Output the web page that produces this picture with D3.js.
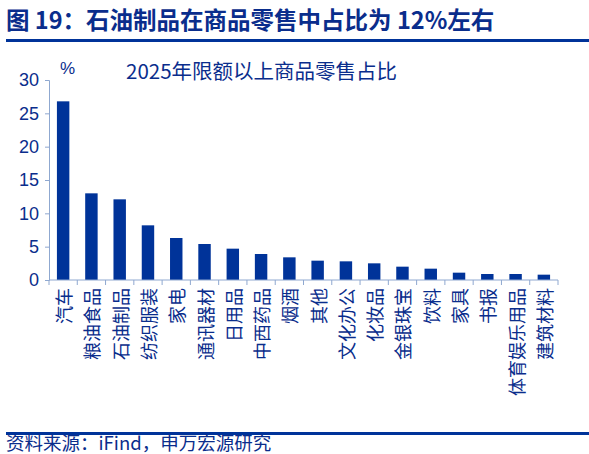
<!DOCTYPE html>
<html><head><meta charset="utf-8">
<script src="https://cdn.jsdelivr.net/npm/d3@7"></script>
<style>body{margin:0;background:#fff}svg{font-family:"Noto Sans CJK SC",sans-serif}</style>
</head><body><svg id="c" width="589" height="454"></svg>
<script>
const categories=["汽车","粮油食品","石油制品","纺织服装","家电","通讯器材","日用品","中西药品","烟酒","其他","文化办公","化妆品","金银珠宝","饮料","家具","书报","体育娱乐用品","建筑材料"];
const values=[26.8,13.0,12.1,8.2,6.3,5.4,4.7,3.9,3.4,2.9,2.8,2.5,2.0,1.7,1.1,0.9,0.9,0.8];
const yTicks=[0,5,10,15,20,25,30];
const navy="#003399", txt="#0a2d8c";
const svg=d3.select("#c");
svg.append("text").attr("x",6).attr("y",29).attr("fill",txt).attr("font-size",23.5).attr("font-weight","bold").text("图 19：石油制品在商品零售中占比为 12%左右");
svg.append("rect").attr("x",6).attr("y",39).attr("width",583).attr("height",3).attr("fill",navy);
svg.append("rect").attr("x",6).attr("y",432).attr("width",583).attr("height",3).attr("fill",navy);
svg.append("text").attr("x",6).attr("y",450).attr("fill",txt).attr("font-size",18.5).text("资料来源：iFind，申万宏源研究");
svg.append("text").attr("x",60).attr("y",74).attr("fill",txt).attr("font-size",17).attr("font-family","Liberation Sans,Arial").text("%");
svg.append("text").attr("x",126).attr("y",79).attr("fill",txt).attr("font-size",20.5).text("2025年限额以上商品零售占比");
const x=d3.scaleBand().domain(categories).range([49,558]).paddingInner(0.56).paddingOuter(0.28);
const y=d3.scaleLinear().domain([0,30]).range([280,80]);
svg.selectAll("rect.b").data(values).join("rect").attr("class","b")
 .attr("x",(d,i)=>x(categories[i])).attr("width",x.bandwidth()).attr("y",d=>y(d)).attr("height",d=>y(0)-y(d)).attr("fill",navy);
const ya=svg.append("g").attr("transform","translate(49,0)").call(d3.axisLeft(y).tickValues(yTicks).tickSize(4).tickPadding(6));
ya.selectAll("text").attr("fill",txt).attr("font-size",18).attr("font-family","Liberation Sans,Arial");
ya.selectAll("line,path").attr("stroke","#8fa8d0");
const xa=svg.append("g");
xa.append("line").attr("x1",49).attr("x2",558).attr("y1",280).attr("y2",280).attr("stroke","#8fa8d0");
xa.selectAll("line.t").data(d3.range(categories.length+1)).join("line").attr("class","t")
 .attr("x1",i=>49+i*(509/18)).attr("x2",i=>49+i*(509/18)).attr("y1",280).attr("y2",285).attr("stroke","#8fa8d0");
xa.selectAll("text").data(categories).join("text")
 .attr("transform",d=>`translate(${x(d)+x.bandwidth()/2},288) rotate(-90)`)
 .attr("text-anchor","end").attr("dominant-baseline","central").attr("fill",txt).attr("font-size",18).text(d=>d);
</script></body></html>
